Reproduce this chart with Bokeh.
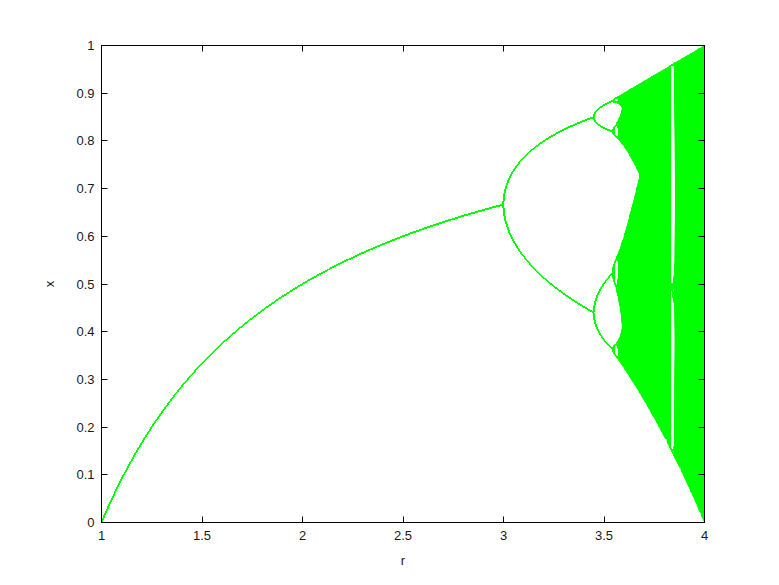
import numpy as np
from bokeh.plotting import figure
from bokeh.models import FixedTicker, LinearAxis, Range1d, CustomJSTickFormatter
from bokeh.embed import file_html
from bokeh.resources import INLINE

# ---- data: logistic map x[n+1] = r * x[n] * (1 - x[n]) ----
r_values = np.linspace(1.0, 4.0, 1201)
x_start = 0.25
n_transient = 1000
n_keep = 120

x_ticks = [1, 1.5, 2, 2.5, 3, 3.5, 4]
x_tick_labels = ["1", "1.5", "2", "2.5", "3", "3.5", "4"]
y_ticks = [0, 0.1, 0.2, 0.3, 0.4, 0.5, 0.6, 0.7, 0.8, 0.9, 1]
y_tick_labels = ["0", "0.1", "0.2", "0.3", "0.4", "0.5", "0.6", "0.7", "0.8", "0.9", "1"]
x_label = "r"
y_label = "x"

x = np.full_like(r_values, x_start)
for _ in range(n_transient):
    x = r_values * x * (1 - x)
orbit = []
for _ in range(n_keep):
    x = r_values * x * (1 - x)
    orbit.append(x.copy())

xs = [r_values.tolist() for _ in orbit]
ys = [np.round(row, 5).tolist() for row in orbit]

FONT = "Liberation Sans"
TXT = "#1a1a1a"

p = figure(output_backend="svg", toolbar_location=None,
           frame_width=603, frame_height=477,
           min_border_left=101, min_border_top=45,
           min_border_right=48, min_border_bottom=48,
           x_range=Range1d(1, 4), y_range=Range1d(0, 1),
           background_fill_color="white", border_fill_color="white")
p.grid.visible = False
p.outline_line_color = "black"

p.multi_line(xs, ys, line_color="#00ff00", line_width=1)

def label_fmt(ticks, labels):
    return CustomJSTickFormatter(args=dict(tv=ticks, labels=labels), code="""
        for (let i = 0; i < tv.length; i++) {
            if (Math.abs(tv[i] - tick) < 1e-9) return labels[i];
        }
        return '';
    """)

blank = CustomJSTickFormatter(code="return '';")

def style(ax, ticks):
    ax.ticker = FixedTicker(ticks=ticks)
    ax.major_tick_in = 6
    ax.major_tick_out = 0
    ax.minor_tick_line_color = None
    ax.axis_line_color = "black"
    ax.major_tick_line_color = "black"
    ax.major_label_text_font = FONT
    ax.major_label_text_font_size = "13px"
    ax.major_label_text_color = TXT
    ax.axis_label_text_font = FONT
    ax.axis_label_text_font_size = "13px"
    ax.axis_label_text_font_style = "normal"
    ax.axis_label_text_color = TXT

style(p.xaxis[0], x_ticks)
style(p.yaxis[0], y_ticks)
p.xaxis[0].formatter = label_fmt(x_ticks, x_tick_labels)
p.yaxis[0].formatter = label_fmt(y_ticks, y_tick_labels)
p.xaxis[0].axis_label = x_label
p.yaxis[0].axis_label = y_label
p.xaxis[0].major_label_standoff = 8
p.yaxis[0].major_label_standoff = 7
p.xaxis[0].axis_label_standoff = 10
p.yaxis[0].axis_label_standoff = 16

top = LinearAxis(formatter=blank)
style(top, x_ticks)
top.major_label_standoff = 0
p.add_layout(top, "above")
right = LinearAxis(formatter=blank)
style(right, y_ticks)
right.major_label_standoff = 0
p.add_layout(right, "right")

open("out.html", "w").write(file_html(p, INLINE))
